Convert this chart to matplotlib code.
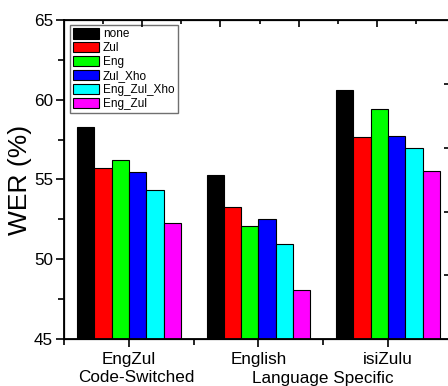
import matplotlib
matplotlib.use("Agg")
import matplotlib.pyplot as plt
import matplotlib.transforms as mtransforms
import numpy as np
from matplotlib.ticker import MultipleLocator, FixedLocator, NullFormatter

plt.rcParams['font.family'] = ['Liberation Sans', 'DejaVu Sans']

categories = ["EngZul", "English", "isiZulu"]
groups = ["Code-Switched", "Language Specific"]
series_names = ["none", "Zul", "Eng", "Zul_Xho", "Eng_Zul_Xho", "Eng_Zul"]
colors = ["#000000", "#ff0000", "#00ff00", "#0000ff", "#00ffff", "#ff00ff"]

none_v = [58.3, 55.27, 60.63]
zul_v = [55.7, 53.25, 57.65]
eng_v = [56.2, 52.08, 59.42]
zul_xho_v = [55.5, 52.55, 57.75]
eng_zul_xho_v = [54.35, 50.98, 56.98]
eng_zul_v = [52.3, 48.05, 55.55]
values = [none_v, zul_v, eng_v, zul_xho_v, eng_zul_xho_v, eng_zul_v]

W, H = 448, 386
fig = plt.figure(figsize=(W / 100, H / 100), dpi=100)
ax = fig.add_axes([64 / W, 47 / H, 386 / W, 319 / H])

x = np.arange(1, len(categories) + 1)
n = len(series_names)
bw = 0.8 / n
for i, (name, vals, c) in enumerate(zip(series_names, values, colors)):
    ax.bar(x + (i - (n - 1) / 2) * bw, np.array(vals) - 45, bottom=45, width=bw,
           color=c, edgecolor="black", linewidth=0.8, label=name, zorder=2)

ax.set_ylim(45, 65)
ax.set_xlim(0.498, 3.479)
ax.yaxis.set_major_locator(MultipleLocator(5))
ax.yaxis.set_minor_locator(MultipleLocator(2.5))
ax.set_xticks(x)
ax.set_xticklabels(categories)
ax.xaxis.set_minor_locator(FixedLocator([0.5, 1.5, 2.5, 3.5]))
ax.tick_params(axis="both", which="major", direction="out", length=6, width=1.2,
               labelsize=12.3, pad=2)
ax.tick_params(axis="both", which="minor", direction="out", length=4, width=1.2)
ax.tick_params(axis="x", which="major", pad=3.5)
for s in ax.spines.values():
    s.set_linewidth(1.3)

ax.set_ylabel("WER (%)", fontsize=19)
ax.yaxis.set_label_coords(-0.082, 0.5)

# group labels
tr = mtransforms.blended_transform_factory(ax.transData, fig.transFigure)
ax.text(1.054, 1 - 378 / H, groups[0], transform=tr,
        ha="center", va="center", fontsize=12.3)
ax.text(2.5, 1 - 378 / H, groups[1], transform=tr,
        ha="center", va="center", fontsize=12.3)

# top secondary axis ticks
axt = ax.twiny()
axt.set_xlim(0, 9.87)
axt.xaxis.set_major_locator(FixedLocator([2, 4, 6, 8]))
axt.xaxis.set_minor_locator(FixedLocator([1, 3, 5, 7, 9]))
axt.xaxis.set_major_formatter(NullFormatter())
axt.tick_params(axis="x", which="major", direction="in", length=5, width=1.2)
axt.tick_params(axis="x", which="minor", direction="in", length=3, width=1.2)

# right secondary axis ticks
axr = ax.twinx()
axr.set_ylim(0, 5.01)
axr.yaxis.set_major_locator(FixedLocator([1, 2, 3, 4]))
axr.yaxis.set_major_formatter(NullFormatter())
axr.tick_params(axis="y", which="major", direction="in", length=4.5, width=1.2)

leg = ax.legend(loc="upper left", bbox_to_anchor=(70 / W, 1 - 25 / H),
                bbox_transform=fig.transFigure, borderaxespad=0, fontsize=8.5,
                frameon=True, fancybox=False, edgecolor="#707070", framealpha=1,
                handlelength=2.2, handleheight=1.0, labelspacing=0.14,
                handletextpad=0.35, borderpad=0.25)
leg.get_frame().set_linewidth(1.0)
leg.set_zorder(5)

fig.savefig("out.png", dpi=100)
